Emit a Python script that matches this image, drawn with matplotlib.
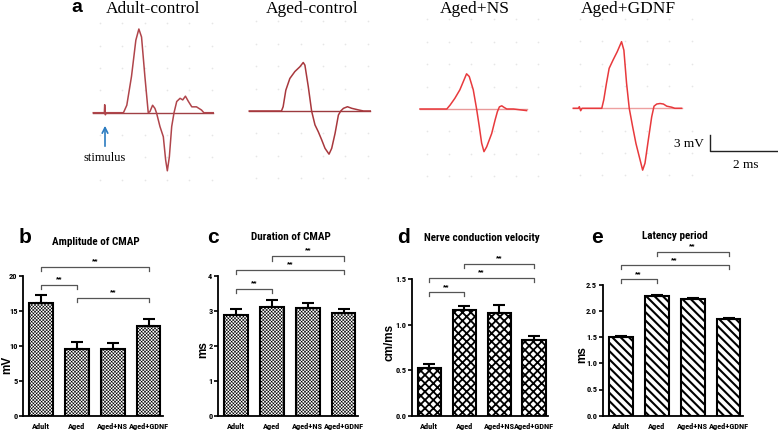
import numpy as np
import matplotlib
matplotlib.use("Agg")
import matplotlib.pyplot as plt
from matplotlib import font_manager

# ---------------- data ----------------
groups = ["Adult", "Aged", "Aged+NS", "Aged+GDNF"]

# panel b-e: mean and SEM
amp_mean = [16.2, 9.6, 9.5, 12.8]
amp_sem = [1.1, 1.0, 0.9, 1.1]
dur_mean = [2.88, 3.12, 3.09, 2.93]
dur_sem = [0.17, 0.19, 0.15, 0.13]
ncv_mean = [0.52, 1.16, 1.13, 0.83]
ncv_sem = [0.05, 0.04, 0.08, 0.04]
lat_mean = [1.50, 2.28, 2.22, 1.84]
lat_sem = [0.02, 0.02, 0.03, 0.02]

# significance brackets (group i, group j, height)
amp_sig = [(0, 1, 18.7), (0, 3, 21.3), (1, 3, 16.9)]
dur_sig = [(0, 1, 3.64), (0, 3, 4.17), (1, 3, 4.56)]
ncv_sig = [(0, 1, 1.353), (0, 3, 1.511), (1, 3, 1.668)]
lat_sig = [(0, 1, 2.60), (0, 3, 2.87), (1, 3, 3.12)]

# panel a: CMAP traces, time (ms) from trace start, voltage (mV)
adult_t = [0, 0.33, 0.34, 0.36, 0.38, 0.9, 1.0, 1.14, 1.27, 1.36, 1.44, 1.54, 1.64, 1.69,
           1.77, 1.84, 1.89, 1.99, 2.09, 2.16, 2.21, 2.27, 2.34, 2.41, 2.49, 2.59, 2.67,
           2.75, 2.84, 2.94, 3.08, 3.23, 3.3, 3.58]
adult_v = [0, 0, 1.5, -0.4, 0, 0, 1.4, 6.8, 13.6, 15.7, 14.2, 6.8, 0, 0.2,
           1.4, 0.8, -0.1, -2.6, -4.5, -8.9, -10.9, -8.3, -2.6, 0, 2.1, 2.7, 2.4,
           3.1, 2.1, 1.1, 1.1, 0.5, 0, 0]
aged_t = [0, 0.96, 1.01, 1.09, 1.21, 1.36, 1.51, 1.61, 1.66, 1.76, 1.86, 1.96, 2.06,
          2.16, 2.26, 2.38, 2.46, 2.56, 2.66, 2.73, 2.81, 2.93, 3.06, 3.26, 3.41, 3.61]
aged_v = [0, 0, 0.8, 3.9, 6.1, 7.4, 8.3, 9.1, 8.6, 4.6, 0, -2.6, -3.9,
          -5.4, -7.0, -8.1, -7.0, -4.2, -0.75, 0, 0.5, 0.8, 0.5, 0.2, 0, 0]
ns_t = [0, 0.8, 0.9, 1.04, 1.19, 1.29, 1.39, 1.47, 1.59, 1.69, 1.77, 1.84, 1.91, 1.99,
        2.14, 2.24, 2.31, 2.37, 2.44, 2.51, 2.59, 2.79, 3.18]
ns_v = [0, 0, 0.75, 2.0, 3.6, 5.1, 6.6, 6.1, 3.6, 0, -3.3, -6.4, -8.0, -7.1,
        -4.6, -2.1, -0.5, 0.4, 0.6, 0.3, 0, 0, -0.3]
gdnf_t = [0, 0.15, 0.18, 0.22, 0.26, 0.85, 0.91, 0.99, 1.07, 1.19, 1.31, 1.44, 1.51,
          1.59, 1.67, 1.77, 1.87, 1.97, 2.07, 2.14, 2.24, 2.34, 2.41, 2.49, 2.59, 2.69,
          2.79, 2.94, 3.03, 3.23]
gdnf_v = [0, 0, 0.3, -0.45, 0, 0, 1.6, 4.7, 7.5, 9.1, 10.6, 12.5, 10.9,
          4.7, 0, -3.4, -6.6, -9.1, -11.6, -10.3, -5.9, -1.6, 0.4, 0.8, 0.9, 0.8,
          0.4, 0.2, 0, 0]
trace_names = ["Adult-control", "Aged-control", "Aged+NS", "Aged+GDNF"]

# ---------------- fonts ----------------
def pick(names):
    for n in names:
        try:
            font_manager.findfont(n, fallback_to_default=False)
            return n
        except Exception:
            pass
    return "DejaVu Sans"

SANS_N = pick(["Liberation Sans Narrow", "Roboto Condensed", "Liberation Sans"])
SANS = pick(["Liberation Sans", "DejaVu Sans"])
SERIF = pick(["Liberation Serif", "DejaVu Serif"])

W, H = 778, 433
fig = plt.figure(figsize=(W / 100, H / 100), dpi=100)


def rect(l, t, r, b):
    return [l / W, 1 - b / H, (r - l) / W, (b - t) / H]


def fx(px):
    return px / W


def fy(py):
    return 1 - py / H


# ---------------- panel a ----------------
PX_MS, PX_MV = 33.5, 5.33   # pixels per ms / per mV
ax_a = fig.add_axes(rect(0, 0, W, 190))
ax_a.set_xlim(0, W / PX_MS)
ax_a.set_ylim(0, 190 / PX_MV)
ax_a.axis("off")

traces = [(adult_t, adult_v), (aged_t, aged_v), (ns_t, ns_v), (gdnf_t, gdnf_v)]
starts = [(93.3, 112.7), (249.3, 111.0), (420.0, 109.0), (573.3, 108.3)]
colors = ["#b0454b", "#a8383d", "#e83a3d", "#e8393c"]
base_colors = ["#a04045", "#9c3a3f", "#e89a9a", "#eea0a0"]
title_x = [153, 312, 475, 628]

for (t, v), (sx, sy), c, bc, name, tx in zip(traces, starts, colors, base_colors,
                                              trace_names, title_x):
    x0 = sx / PX_MS
    y0 = (190 - sy) / PX_MV
    t = np.asarray(t)
    v = np.asarray(v)
    # faint grid dots of the recorder screen
    gx = x0 + 0.2 + np.arange(6) * 0.667
    gy = y0 + np.array([-12.6, -8.4, -4.2, 4.2, 8.4, 12.6, 16.8])
    GX, GY = np.meshgrid(gx, gy)
    ax_a.scatter(GX.ravel(), GY.ravel(), s=1.5, color="#e6e6e6", lw=0)
    ax_a.plot([x0 + t[0], x0 + t[-1]], [y0, y0], color=bc, lw=1.0)
    ax_a.plot(x0 + t, y0 + v, color=c, lw=1.1)
    fig.text(fx(tx), fy(9), name, family=SERIF, fontsize=12.5, ha="center", va="center")

fig.text(fx(77), fy(8), "a", family=SANS, fontweight="bold", fontsize=14,
         ha="center", va="center")

# stimulus arrow
ax_a.annotate("", xy=(105 / PX_MS, (190 - 123) / PX_MV),
              xytext=(105 / PX_MS, (190 - 149) / PX_MV),
              arrowprops=dict(arrowstyle="->", color="#2b7bc0", lw=1.2))
fig.text(fx(105), fy(158), "stimulus", family=SERIF, fontsize=9, ha="center", va="center")

# scale bar 3 mV / 2 ms
sbx = 710 / PX_MS
sby = (190 - 151) / PX_MV
ax_a.plot([sbx, sbx, sbx + 2], [sby + 3, sby, sby], color="#222222", lw=1.0)
fig.text(fx(704), fy(144), "3 mV", family=SERIF, fontsize=9.5, ha="right", va="center")
fig.text(fx(746), fy(165), "2 ms", family=SERIF, fontsize=9.5, ha="center", va="center")


# ---------------- panels b-e ----------------
def bar_panel(box, means, sems, sigs, ymax, yticks, fmt, ylabel, ylab_xy, title, title_xy,
              letter, letter_x, hatch, hlw):
    ax = fig.add_axes(rect(*box))
    x = np.arange(len(groups))
    bars = ax.bar(x, means, width=0.66, color="white", edgecolor="black", linewidth=1.5,
                  hatch=hatch, zorder=2)
    for b in bars:
        if hasattr(b, "set_hatch_linewidth"):
            b.set_hatch_linewidth(hlw)
    ax.errorbar(x, means, yerr=[np.zeros(len(sems)), sems], fmt="none", ecolor="black",
                elinewidth=1.5, capsize=4.5, capthick=1.5, zorder=3)
    ax.set_xlim(-0.5, 3.4)
    ax.set_ylim(0, ymax)
    ax.set_yticks(yticks)
    ax.set_yticklabels([fmt.format(v) for v in yticks], family=SANS_N, fontweight="bold",
                       fontsize=6)
    ax.set_xticks(x)
    ax.set_xticklabels(groups, family=SANS_N, fontweight="bold", fontsize=6)
    ax.tick_params(axis="y", length=3, width=1.2, pad=1)
    ax.tick_params(axis="x", length=0, pad=5)
    for s in ("top", "right"):
        ax.spines[s].set_visible(False)
    for s in ("left", "bottom"):
        ax.spines[s].set_linewidth(1.3)
    # brackets
    tick = 0.03 * ymax
    for i, j, y in sigs:
        ax.plot([i, i, j, j], [y - tick, y, y, y - tick], color="#555555", lw=0.9,
                clip_on=False)
        ax.text((i + j) / 2, y + 0.012 * ymax, "**", family=SANS, fontsize=6,
                ha="center", va="bottom", fontweight="bold")
    fig.text(fx(ylab_xy[0]), fy(ylab_xy[1]), ylabel, family=SANS, fontweight="bold",
             fontsize=8.5, rotation=90, ha="center", va="center")
    fig.text(fx(title_xy[0]), fy(title_xy[1]), title, family=SANS_N, fontweight="bold",
             fontsize=8, ha="center", va="center")
    fig.text(fx(letter_x), fy(237), letter, family=SANS, fontweight="bold", fontsize=15,
             ha="center", va="center")
    return ax


plt.rcParams["hatch.color"] = "black"
plt.rcParams["hatch.linewidth"] = 0.5
bar_panel((23, 276, 163, 415.7), amp_mean, amp_sem, amp_sig, 20, [0, 5, 10, 15, 20], "{:g}",
          "mV", (7, 365), "Amplitude of CMAP", (96, 242), "b", 25, "xxxxxxxxxx", 0.4)
bar_panel((218, 276, 358, 416), dur_mean, dur_sem, dur_sig, 4, [0, 1, 2, 3, 4], "{:g}",
          "ms", (203, 350), "Duration of CMAP", (291, 237), "c", 213, "xxxxxxxxxx", 0.4)
bar_panel((411.7, 279, 548, 415.7), ncv_mean, ncv_sem, ncv_sig, 1.5, [0, 0.5, 1.0, 1.5],
          "{:.1f}", "cm/ms", (390, 342), "Nerve conduction velocity", (482, 238), "d", 404,
          "xxxx", 1.3)
bar_panel((602.7, 284.7, 743, 415.7), lat_mean, lat_sem, lat_sig, 2.5,
          [0, 0.5, 1.0, 1.5, 2.0, 2.5], "{:.1f}", "ms", (582, 355), "Latency period",
          (675, 236), "e", 597, "\\\\\\\\", 1.5)

fig.savefig("out.png", dpi=100)
